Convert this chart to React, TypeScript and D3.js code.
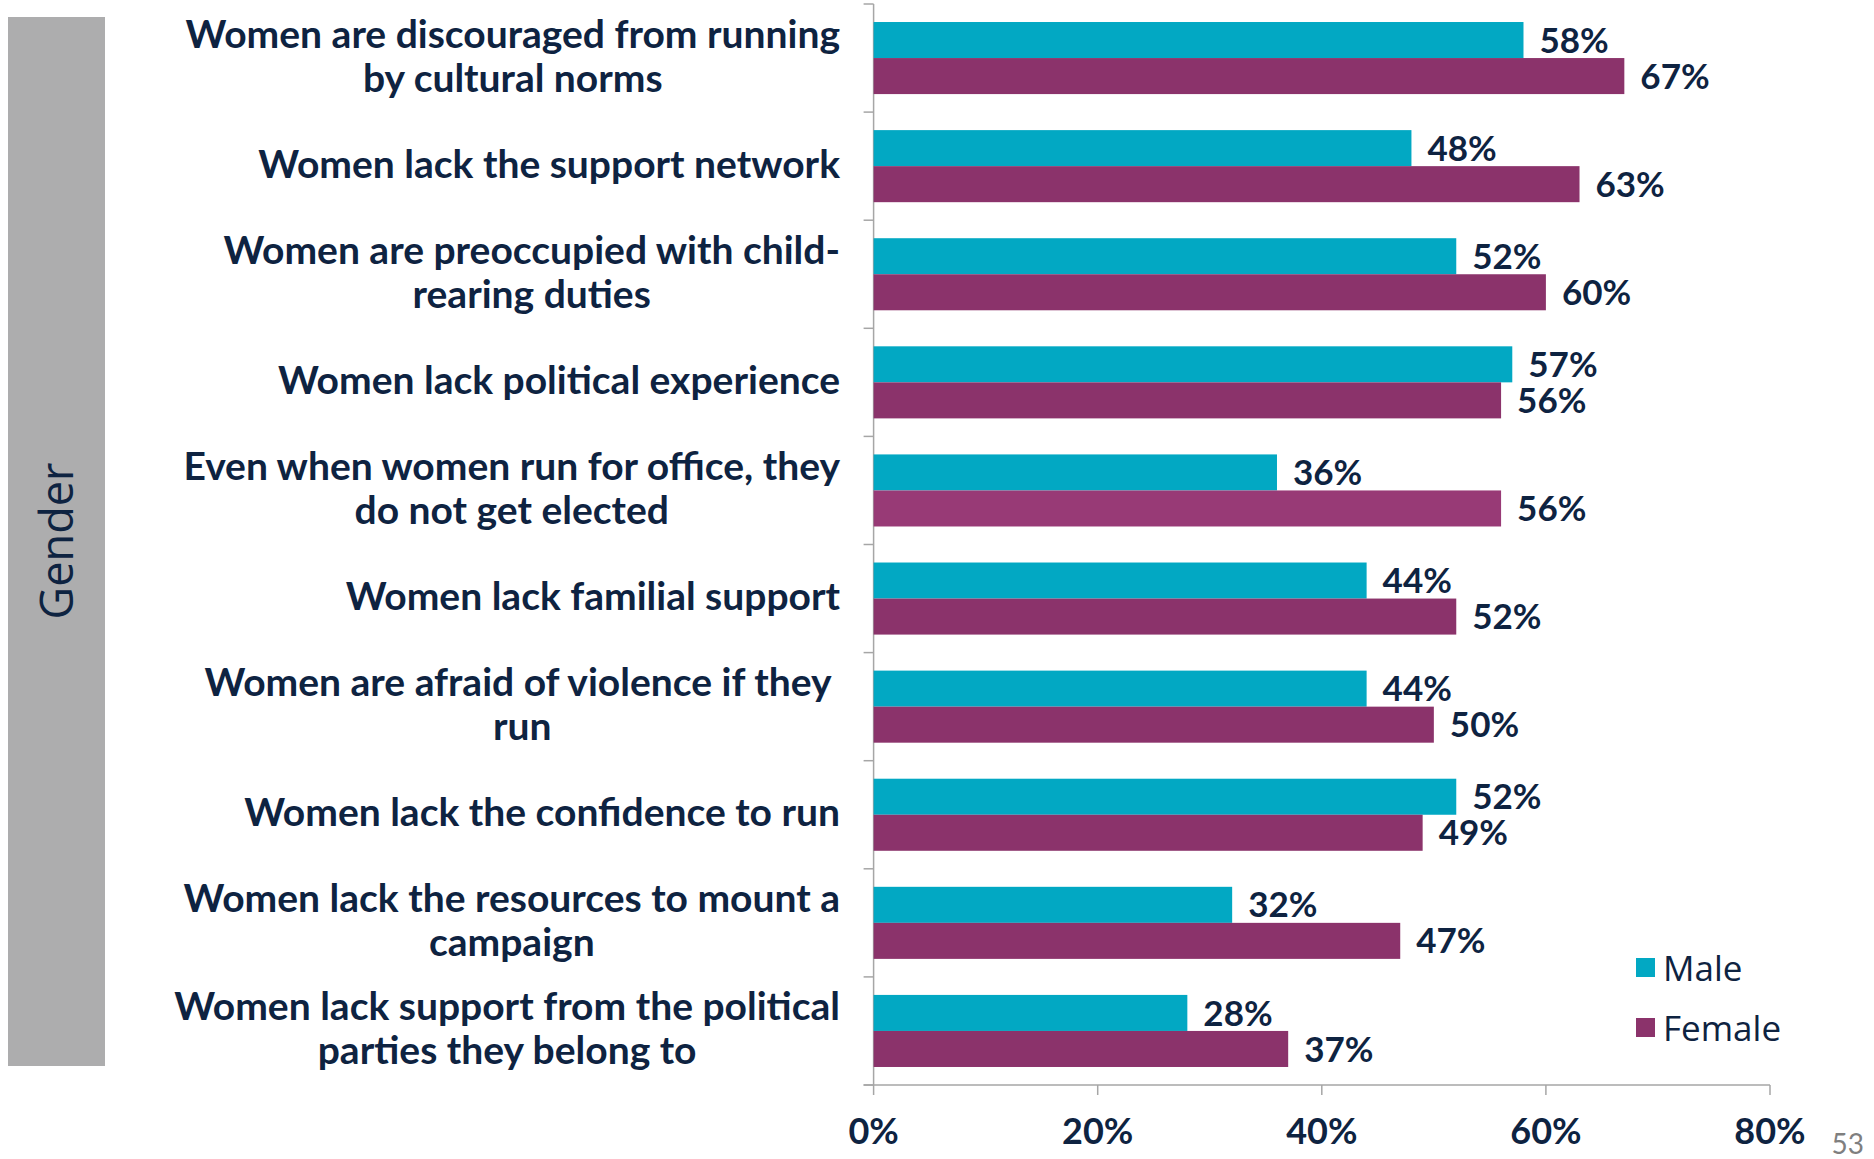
import React, { useEffect, useRef } from "react";
import * as d3 from "d3";

const categories: string[][] = [
  ["Women are discouraged from running", "by cultural norms"],
  ["Women lack the support network"],
  ["Women are preoccupied with child-", "rearing duties"],
  ["Women lack political experience"],
  ["Even when women run for office, they", "do not get elected"],
  ["Women lack familial support"],
  ["Women are afraid of violence if they ", "run"],
  ["Women lack the confidence to run"],
  ["Women lack the resources to mount a", "campaign"],
  ["Women lack support from the political", "parties they belong to"],
];
const seriesNames = ["Male", "Female"];
const maleValues = [58, 48, 52, 57, 36, 44, 44, 52, 32, 28];
const femaleValues = [67, 63, 60, 56, 56, 52, 50, 49, 47, 37];
const xTicks = [0, 20, 40, 60, 80];
const sideLabel = "Gender";
const pageNumber = "53";

const W = 1874;
const H = 1159;
const TEXT = "#0e2341";
const MALE = "#02a8c3";
const FEMALE = "#8b336b";
const FEMALE_HL = "#983a76";
const HL_INDEX = 4;
const AXIS = "#a6a6a6";
const FONT = "Lato, 'Open Sans', sans-serif";

export default function App() {
  const ref = useRef<SVGSVGElement>(null);
  useEffect(() => {
    const svg = d3.select(ref.current);
    svg.selectAll("*").remove();
    const left = 873.6, right = 1770, top = 4, bottom = 1085;
    const x = d3.scaleLinear().domain([0, 80]).range([left, right]);
    const ids = categories.map((_, i) => String(i));
    const y = d3.scaleBand().domain(ids).range([top, bottom]).paddingInner(1 / 3).paddingOuter(1 / 6);
    const ys = d3.scaleBand().domain(seriesNames).range([0, y.bandwidth()]);
    const step = y.step();

    // side box
    svg.append("rect").attr("x", 8).attr("y", 17).attr("width", 97).attr("height", 1049).attr("fill", "#adadae");
    svg.append("text").attr("transform", `translate(73,541) rotate(-90)`).attr("text-anchor", "middle")
      .attr("font-family", "'Open Sans', sans-serif").attr("font-size", 45).attr("fill", TEXT).text(sideLabel);

    // axes
    svg.append("line").attr("x1", left).attr("x2", left).attr("y1", top).attr("y2", bottom).attr("stroke", AXIS).attr("stroke-width", 1.5);
    svg.append("line").attr("x1", left - 10).attr("x2", right).attr("y1", bottom).attr("y2", bottom).attr("stroke", AXIS).attr("stroke-width", 1.5);
    d3.range(categories.length + 1).forEach((i) => {
      const yy = top + i * step;
      svg.append("line").attr("x1", left - 10).attr("x2", left).attr("y1", yy).attr("y2", yy).attr("stroke", AXIS).attr("stroke-width", 1.5);
    });
    xTicks.forEach((t) => {
      svg.append("line").attr("x1", x(t)).attr("x2", x(t)).attr("y1", bottom).attr("y2", bottom + 10).attr("stroke", AXIS).attr("stroke-width", 1.5);
      svg.append("text").attr("x", x(t)).attr("y", 1131).attr("dy", "0.35em").attr("text-anchor", "middle")
        .attr("font-family", FONT).attr("font-weight", 700).attr("font-size", 36).attr("fill", TEXT).text(`${t}%`);
    });

    // bars
    const series = [maleValues, femaleValues];
    ids.forEach((id, i) => {
      series.forEach((vals, s) => {
        const name = seriesNames[s];
        const by = (y(id) as number) + (ys(name) as number);
        const color = s === 0 ? MALE : i === HL_INDEX ? FEMALE_HL : FEMALE;
        svg.append("rect").attr("x", x(0)).attr("y", by).attr("width", x(vals[i]) - x(0)).attr("height", ys.bandwidth()).attr("fill", color);
        svg.append("text").attr("x", x(vals[i]) + 16).attr("y", by + ys.bandwidth() / 2).attr("dy", "0.36em")
          .attr("font-family", FONT).attr("font-weight", 700).attr("font-size", 35).attr("fill", TEXT).text(`${vals[i]}%`);
      });
    });

    // category labels
    const labelRight = 840;
    const lineH = 44;
    ids.forEach((id, i) => {
      const lines = categories[i];
      const cy = (y(id) as number) + y.bandwidth() / 2 - 2.5;
      const g = svg.append("g");
      const texts = lines.map((ln, k) =>
        g.append("text").attr("y", cy + (k - (lines.length - 1) / 2) * lineH).attr("dy", "0.36em")
          .attr("font-family", FONT).attr("font-weight", 700).attr("font-size", 39).attr("fill", TEXT)
          .style("white-space", "pre").text(ln)
      );
      const widths = texts.map((t) => (t.node() as SVGTextElement).getComputedTextLength());
      const maxW = Math.max(...widths);
      const center = labelRight - maxW / 2;
      texts.forEach((t) => t.attr("x", center).attr("text-anchor", "middle"));
    });

    // legend
    const legend = [
      { name: seriesNames[0], color: MALE, cy: 968 },
      { name: seriesNames[1], color: FEMALE, cy: 1028 },
    ];
    legend.forEach((l) => {
      svg.append("rect").attr("x", 1636).attr("y", l.cy - 10).attr("width", 19).attr("height", 19).attr("fill", l.color);
      svg.append("text").attr("x", 1663).attr("y", l.cy).attr("dy", "0.36em").attr("font-family", "'Open Sans', sans-serif")
        .attr("font-size", 35).attr("fill", TEXT).text(l.name);
    });

    svg.append("text").attr("x", 1864).attr("y", 1144).attr("dy", "0.36em").attr("text-anchor", "end")
      .attr("font-family", FONT).attr("font-size", 28).attr("fill", "#7f7f7f").text(pageNumber);
  }, []);
  return (
    <svg ref={ref} width={W} height={H} style={{ position: "absolute", left: 0, top: 0, background: "#fff" }} />
  );
}
